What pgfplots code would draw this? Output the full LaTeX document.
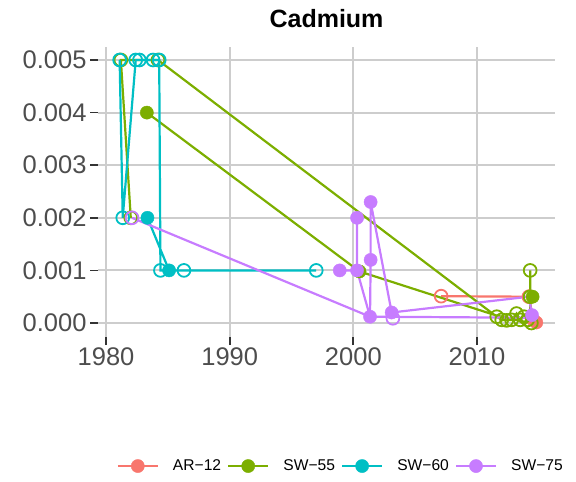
\documentclass[border=0pt]{standalone}
\usepackage{pgfplots}
\pgfplotsset{compat=1.18}
\usepackage{fontspec}
\setmainfont{Liberation Sans}
\definecolor{cAR}{HTML}{F8766D}
\definecolor{cSA}{HTML}{7CAE00}
\definecolor{cSB}{HTML}{00BFC4}
\definecolor{cSC}{HTML}{C77CFF}
\definecolor{tickgray}{HTML}{4D4D4D}
\definecolor{tickdark}{HTML}{333333}
\definecolor{gridgray}{HTML}{CDCDCD}
\pgfplotsset{
  lin/.style={no markers, line width=2.2pt},
  op/.style={only marks, mark=o, mark size=6.4pt, mark options={line width=1.8pt, fill=none}},
  fi/.style={only marks, mark=*, mark size=6.6pt},
}
\begin{document}
\begin{tikzpicture}[x=1pt,y=1pt]
\useasboundingbox (0,0) rectangle (576,482);
\begin{axis}[
  at={(98pt,145pt)}, anchor=south west,
  scale only axis, width=457pt, height=290pt,
  xmin=1979.35, xmax=2016.31, ymin=-0.000266, ymax=0.005247,
  xtick={1980,1990,2000,2010},
  ytick={0,0.001,0.002,0.003,0.004,0.005},
  scaled y ticks=false, scaled x ticks=false,
  /pgf/number format/assume math mode=true,
  xticklabel style={/pgf/number format/1000 sep={}, inner ysep=2pt},
  yticklabel style={/pgf/number format/.cd, fixed, fixed zerofill, precision=3},
  ticklabel style={font=\fontsize{25.5}{30}\selectfont, text=tickgray},
  axis line style={draw=none},
  tick align=outside, tick pos=left,
  major tick length=8pt,
  tick style={line width=1.8pt, color=tickdark},
  grid=major,
  major grid style={line width=1.9pt, color=gridgray},
  clip=false,
  title={Cadmium},
  title style={font=\bfseries\fontsize{25}{30}\selectfont, at={(0.5,1.079)}, anchor=center},
  legend columns=4,
  legend cell align=left,
  legend image code/.code={\draw[line width=2.2pt,#1] (0pt,0pt) -- (40pt,0pt); \fill[#1] (20pt,0pt) circle (6.6pt); \path (55pt,0pt);},
  legend style={at={(1.0175,-0.445)}, anchor=east, draw=none, fill=none, inner sep=0pt,
    font=\fontsize{15.6}{18}\selectfont, nodes={inner sep=0pt},
    /tikz/every even column/.append style={column sep=6pt}},
]
\addlegendimage{color=cAR}
\addlegendimage{color=cSA}
\addlegendimage{color=cSB}
\addlegendimage{color=cSC}
\legend{AR−12,SW−55,SW−60,SW−75}

% ---- lines ----
\addplot[lin, color=cAR] coordinates {(2007.1,0.00051) (2014.2,0.0005) (2014.55,0.00006) (2014.8,0.00001)};
\addplot[lin, color=cSA] coordinates {(1982.0,0.002) (1981.2,0.005) (1984.2,0.005) (2011.6,0.00012) (2012.0,0.00006) (2012.4,0.00005) (2012.8,0.00006) (2013.2,0.00018) (2013.5,0.00006) (2013.8,0.00012) (2014.1,0.00006) (2014.3,0.0001) (2014.3,0.0005) (2014.3,0.001) (2014.3,0.0) (2011.6,0.00014) (2000.5,0.00098) (1983.3,0.004)};
\addplot[lin, color=cSB] coordinates {(1981.1,0.005) (1981.35,0.002) (1982.4,0.005) (1982.7,0.005) (1983.8,0.005) (1984.3,0.005) (1984.4,0.001) (1986.3,0.001) (1997.0,0.001) (1985.1,0.001) (1983.35,0.002)};
\addplot[lin, color=cSC] coordinates {(1982.1,0.002) (2001.35,0.00012) (2014.3,0.0001) (2014.45,0.00015) (2014.2,0.0005) (2003.1,0.0002) (2001.4,0.0023) (2001.4,0.0012) (2001.35,0.00012) (2000.3,0.001) (2000.3,0.002) (2000.3,0.001) (1998.9,0.001)};

% ---- points ----
\addplot[op, color=cAR] coordinates {(2007.1,0.00051) (2014.2,0.0005)};
\addplot[fi, color=cAR] coordinates {(2014.55,0.00006) (2014.8,0.00001)};
\addplot[op, color=cSA] coordinates {(1981.2,0.005) (1982.0,0.002) (1984.2,0.005) (2011.6,0.00012) (2012.0,0.00006) (2012.4,0.00005) (2012.8,0.00006) (2013.2,0.00018) (2013.5,0.00006) (2013.8,0.00012) (2014.1,0.00006) (2014.3,0.001) (2014.3,0.0005) (2014.4,0.0)};
\addplot[fi, color=cSA] coordinates {(1983.3,0.004) (2000.5,0.00098) (2014.5,0.0005)};
\addplot[op, color=cSB] coordinates {(1981.1,0.005) (1981.35,0.002) (1982.4,0.005) (1982.7,0.005) (1983.8,0.005) (1984.3,0.005) (1984.4,0.001) (1986.3,0.001) (1997.0,0.001)};
\addplot[fi, color=cSB] coordinates {(1983.35,0.002) (1985.1,0.001)};
\addplot[op, color=cSC] coordinates {(1982.1,0.002) (2003.2,0.00009)};
\addplot[fi, color=cSC] coordinates {(2001.35,0.00012) (2014.45,0.00015) (2003.1,0.0002) (2001.4,0.0023) (2001.4,0.0012) (2000.3,0.001) (2000.3,0.002) (1998.9,0.001)};
\end{axis}
\end{tikzpicture}
\end{document}
